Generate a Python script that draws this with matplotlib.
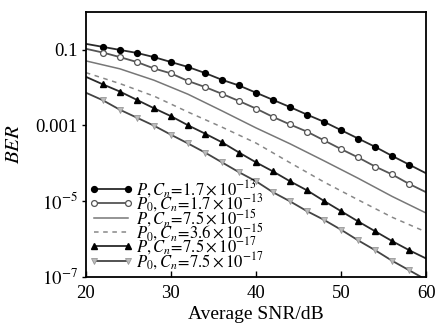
"""BER vs average SNR for several turbulence strengths (semilog)."""

import matplotlib
matplotlib.use("Agg")
import matplotlib.pyplot as plt
from matplotlib.ticker import FixedLocator, NullLocator
import numpy as np

plt.rcParams["font.family"] = ["Liberation Serif", "DejaVu Serif"]
plt.rcParams["mathtext.fontset"] = "stix"

# SNR grid (dB) of the marker curves, read every 2 dB
snr_fine = [20, 22, 24, 26, 28, 30, 32, 34, 36, 38, 40,
            42, 44, 46, 48, 50, 52, 54, 56, 58, 60]
# SNR grid (dB) of the curves without markers, read every 4 dB
snr_coarse = [20, 24, 28, 32, 36, 40, 44, 48, 52, 56, 60]

# log10(BER)
log_ber_p_1p7e13 = [-0.85, -0.93, -1.01, -1.09, -1.20, -1.33, -1.46, -1.62, -1.80, -1.95, -2.14,
                    -2.33, -2.52, -2.72, -2.91, -3.13, -3.35, -3.57, -3.81, -4.04, -4.27]
log_ber_p0_1p7e13 = [-0.98, -1.08, -1.20, -1.33, -1.50, -1.63, -1.83, -1.99, -2.17, -2.36, -2.56,
                     -2.78, -2.98, -3.17, -3.40, -3.63, -3.85, -4.09, -4.30, -4.55, -4.77]
log_ber_p_7p5e15 = [-1.30, -1.51, -1.81, -2.18, -2.62, -3.07, -3.49, -3.94, -4.40, -4.88, -5.32]
log_ber_p0_3p6e15 = [-1.61, -1.90, -2.23, -2.65, -3.05, -3.47, -3.99, -4.50, -4.97, -5.43, -5.82]
log_ber_p_7p5e17 = [-1.72, -1.92, -2.11, -2.33, -2.55, -2.76, -3.00, -3.22, -3.45, -3.72, -3.98,
                    -4.22, -4.48, -4.72, -5.00, -5.27, -5.54, -5.80, -6.06, -6.30, -6.52]
log_ber_p0_7p5e17 = [-2.14, -2.34, -2.59, -2.80, -3.01, -3.25, -3.48, -3.72, -3.98, -4.24, -4.48,
                     -4.77, -5.01, -5.27, -5.50, -5.76, -6.04, -6.30, -6.58, -6.83, -7.08]

labels = [
    r"$P,C_n\!=\!1.7\times10^{-13}$",
    r"$P_0,C_n\!=\!1.7\times10^{-13}$",
    r"$P,C_n\!=\!7.5\times10^{-15}$",
    r"$P_0,C_n\!=\!3.6\times10^{-15}$",
    r"$P,C_n\!=\!7.5\times10^{-17}$",
    r"$P_0,C_n\!=\!7.5\times10^{-17}$",
]

x_ticks = [20, 30, 40, 50, 60]
y_ticks = [1e-1, 1e-3, 1e-5, 1e-7]
y_tick_labels = ["0.1", "0.001", r"$10^{-5}$", r"$10^{-7}$"]

fig = plt.figure(figsize=(4.38, 3.24), dpi=100)
ax = fig.add_axes([0.196, 0.146, 0.777, 0.818])

marker_every = slice(1, -1)  # markers at 22..58 dB

ax.plot(snr_fine, 10 ** np.array(log_ber_p_1p7e13), color="#2a2a2a", lw=1.3,
        marker="o", ms=4.2, mfc="black", mec="black", markevery=marker_every, label=labels[0])
ax.plot(snr_fine, 10 ** np.array(log_ber_p0_1p7e13), color="#555555", lw=1.3,
        marker="o", ms=4.2, mfc="white", mec="#555555", mew=0.9, markevery=marker_every,
        label=labels[1])
ax.plot(snr_coarse, 10 ** np.array(log_ber_p_7p5e15), color="#777777", lw=1.1, label=labels[2])
ax.plot(snr_coarse, 10 ** np.array(log_ber_p0_3p6e15), color="#888888", lw=1.1,
        ls=(0, (3, 3)), label=labels[3])
ax.plot(snr_fine, 10 ** np.array(log_ber_p_7p5e17), color="#2a2a2a", lw=1.3,
        marker="^", ms=4.2, mfc="black", mec="black", markevery=marker_every, label=labels[4])
ax.plot(snr_fine, 10 ** np.array(log_ber_p0_7p5e17), color="#444444", lw=1.3,
        marker="v", ms=4.2, mfc="#bbbbbb", mec="#999999", mew=0.6, markevery=marker_every,
        label=labels[5])

ax.set_yscale("log")
ax.set_xlim(20, 60)
ax.set_ylim(1e-7, 1)
ax.xaxis.set_major_locator(FixedLocator(x_ticks))
ax.yaxis.set_major_locator(FixedLocator(y_ticks))
ax.yaxis.set_minor_locator(NullLocator())
ax.set_yticklabels(y_tick_labels)
ax.tick_params(axis="x", direction="in", length=4, width=1, labelsize=13.5, pad=6)
ax.tick_params(axis="y", direction="out", length=3, width=1, labelsize=13.5, pad=3)
for s in ax.spines.values():
    s.set_linewidth(1.3)

ax.set_xlabel("Average SNR/dB", fontsize=14, labelpad=3)
ax.set_ylabel(r"$BER$", fontsize=15, labelpad=8)

# tight spacing as in the source figure (labels touch each other there too)
ax.legend(loc="upper left", bbox_to_anchor=(0.0, 0.385), frameon=False, fontsize=12,
          handlelength=2.6, handletextpad=0.2, labelspacing=-0.45, borderpad=0.1,
          borderaxespad=0.1, numpoints=2)

fig.savefig("out.png", dpi=100)
